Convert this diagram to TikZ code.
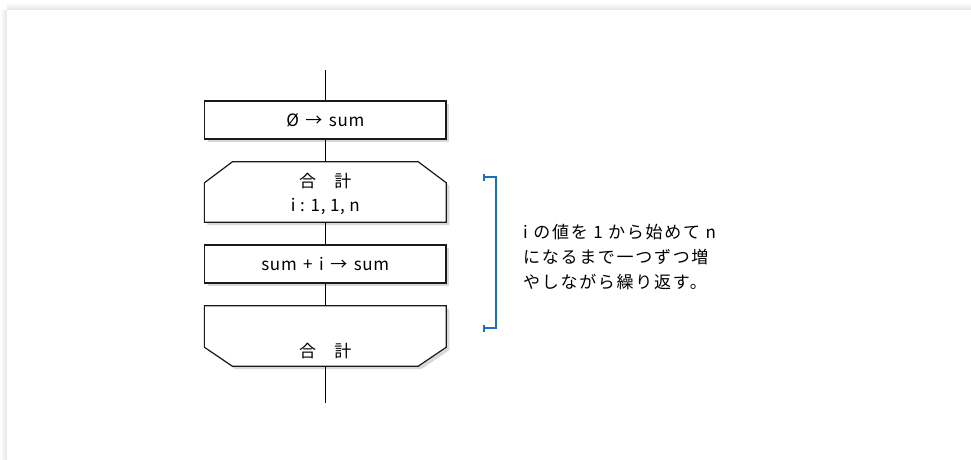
\documentclass[tikz,border=0pt]{standalone}
\usepackage{fontspec}
\setmainfont{Noto Sans CJK JP}
\newfontfamily\jpspaced[LetterSpace=10]{Noto Sans CJK JP}
\newfontfamily\boxfont[LetterSpace=4]{Noto Sans CJK JP}
\newcommand{\gapsp}{\hspace{6.5pt}}
\usetikzlibrary{shadows,calc}
\definecolor{bracketblue}{HTML}{1F6FBF}
\definecolor{edgegray}{HTML}{1A1A1A}
\begin{document}
\begin{tikzpicture}[x=1pt,y=-1pt,
  boxshadow/.style={drop shadow={opacity=0.3, shadow xshift=3pt, shadow yshift=-3pt}},
  flowbox/.style={draw=edgegray, line width=1.2pt, fill=white, minimum width=241.5pt, minimum height=38pt, inner sep=0pt, boxshadow, font=\boxfont\fontsize{17}{20}\selectfont},
  loopframe/.style={minimum width=241.5pt, minimum height=60pt, inner sep=0pt},
  outline/.style={draw=edgegray, line width=1.2pt, fill=white, line join=miter, boxshadow},
  conn/.style={draw=black, line width=0.8pt},
  lbl/.style={font=\boxfont\fontsize{17}{20}\selectfont, inner sep=0pt},
  bracketline/.style={draw=bracketblue, line width=1.3pt},
  note/.style={font=\jpspaced\fontsize{17}{25}\selectfont, inner sep=0pt, anchor=west, align=left}]
\useasboundingbox (0,0) rectangle (971,459);
\fill[white] (0,0) rectangle (971,459);
% panel shadow
\shade[top color=white, bottom color=black!10] (7,2) rectangle (971,10);
\shade[left color=white, right color=black!10] (0,10) rectangle (7,459);
\fill[white] (7,10) rectangle (971,459);

% nodes
\node[flowbox] (b1) at (325.3,120) {Ø\gapsp→\gapsp sum};
\node[loopframe] (ls) at (325.3,192) {};
\node[flowbox] (b2) at (325.3,264) {sum\gapsp+\gapsp i\gapsp→\gapsp sum};
\node[loopframe] (le) at (325.3,336) {};

\path[outline] (ls.south west) -- ([yshift=-21pt]ls.north west) -- ([xshift=28pt]ls.north west)
  -- ([xshift=-28pt]ls.north east) -- ([yshift=-21pt]ls.north east) -- (ls.south east) -- cycle;
\path[outline] (le.north west) -- ([yshift=19pt]le.south west) -- ([xshift=28pt]le.south west)
  -- ([xshift=-28pt]le.south east) -- ([yshift=19pt]le.south east) -- (le.north east) -- cycle;

\node[lbl] (ls1) at (325.3,181) {合　計};
\node[lbl] (ls2) at (325.3,207) {i : 1, 1, n};
\node[lbl] (le1) at (325.3,351) {合　計};

% connectors
\coordinate (top) at (325.3,70);
\coordinate (bot) at (325.3,403);
\draw[conn] (top) -- (b1.north);
\draw[conn] (b1.south) -- (ls.north);
\draw[conn] (ls.south) -- (b2.north);
\draw[conn] (b2.south) -- (le.north);
\draw[conn] (le.south) -- (bot);

% bracket
\coordinate (bt) at (496,177);
\coordinate (bb) at (496,328);
\draw[bracketline] (484,177) -- (bt) -- (bb) -- (484,328);
\draw[bracketline] (484,173.5) -- (484,180.5);
\draw[bracketline] (484,324.5) -- (484,331.5);

\node[note] (txt) at (523,257) {i の値を 1 から始めて n\\になるまで一つずつ増\\やしながら繰り返す。};
\end{tikzpicture}
\end{document}
